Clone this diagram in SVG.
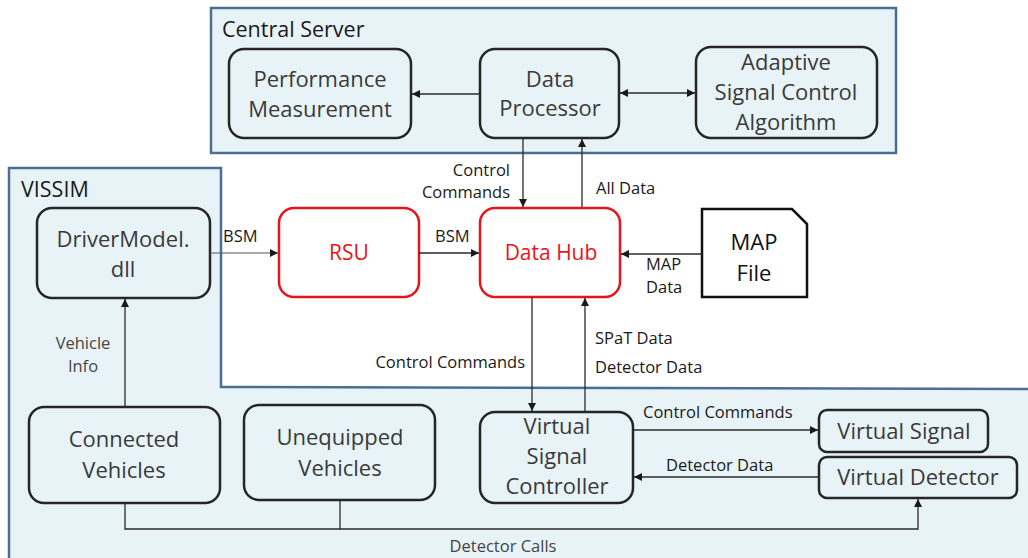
<svg xmlns="http://www.w3.org/2000/svg" width="1028" height="558" viewBox="0 0 1028 558">
<defs>
<marker id="ah" viewBox="0 0 10 10" refX="10" refY="5" markerWidth="8" markerHeight="8" markerUnits="userSpaceOnUse" orient="auto-start-reverse">
<path d="M0,0 L10,5 L0,10 z" fill="#1a1a1a"/>
</marker>
<style>
.cont{fill:#e8f3f8;stroke:#4a6e96;stroke-width:2.5}
.node{fill:#e8f3f8;stroke:#262626;stroke-width:2.5}
.red{fill:#ffffff;stroke:#e8141b;stroke-width:2.5}
.file{fill:#ffffff;stroke:#111;stroke-width:2.5}
.nt{font-family:"Open Sans","Liberation Sans",sans-serif;font-size:22px;fill:#3a3a3a;text-anchor:middle}
.rt{font-family:"Open Sans","Liberation Sans",sans-serif;font-size:21px;fill:#e8141b;text-anchor:middle}
.ft{font-family:"Open Sans","Liberation Sans",sans-serif;font-size:22px;fill:#111;text-anchor:middle}
.ct{font-family:"Open Sans","Liberation Sans",sans-serif;font-size:21.5px;fill:#1a1a1a}
.lb{font-family:"Open Sans","Liberation Sans",sans-serif;font-size:16.5px;fill:#1a1a1a}
.lg{font-family:"Open Sans","Liberation Sans",sans-serif;font-size:16.5px;fill:#444}
.ln{fill:none;stroke:#2a2a2a;stroke-width:1.3}
.lt{fill:none;stroke:#555;stroke-width:1}
</style>
</defs>
<g id="central-server">
<rect class="cont" x="211" y="8" width="685" height="145"/>
<text class="ct" x="222" y="37">Central Server</text>
</g>
<g id="vissim">
<path class="cont" d="M9,168 L221,168 L221,387 L1030,389 L1030,560 L9,560 Z"/>
<text class="ct" x="21" y="197">VISSIM</text>
</g>
<g id="performance-measurement">
<rect class="node" x="229" y="49" width="182" height="89" rx="15"/>
<text class="nt" x="320" y="87">Performance</text>
<text class="nt" x="320" y="117">Measurement</text>
</g>
<g id="data-processor">
<rect class="node" x="480" y="49" width="139" height="89" rx="15"/>
<text class="nt" x="550" y="87">Data</text>
<text class="nt" x="550" y="116">Processor</text>
</g>
<g id="adaptive-signal-control">
<rect class="node" x="696" y="47" width="181" height="91" rx="15"/>
<text class="nt" x="786" y="70">Adaptive</text>
<text class="nt" x="786" y="100">Signal Control</text>
<text class="nt" x="786" y="130">Algorithm</text>
</g>
<g id="drivermodel">
<rect class="node" x="37" y="208" width="173" height="90" rx="15"/>
<text class="nt" x="123" y="247">DriverModel.</text>
<text class="nt" x="123" y="277">dll</text>
</g>
<g id="rsu">
<rect class="red" x="279" y="208" width="140" height="89" rx="15"/>
<text class="rt" x="349" y="260">RSU</text>
</g>
<g id="data-hub">
<rect class="red" x="480" y="208" width="140" height="89" rx="15"/>
<text class="rt" x="551" y="260">Data Hub</text>
</g>
<g id="map-file">
<path class="file" d="M702,209 L792,209 L807,224 L807,297 L702,297 Z"/>
<text class="ft" x="754" y="250">MAP</text>
<text class="ft" x="754" y="281">File</text>
</g>
<g id="connected-vehicles">
<rect class="node" x="29" y="407" width="191" height="96" rx="15"/>
<text class="nt" x="124" y="447">Connected</text>
<text class="nt" x="124" y="478">Vehicles</text>
</g>
<g id="unequipped-vehicles">
<rect class="node" x="244" y="405" width="191" height="95" rx="15"/>
<text class="nt" x="340" y="445">Unequipped</text>
<text class="nt" x="340" y="476">Vehicles</text>
</g>
<g id="virtual-signal-controller">
<rect class="node" x="480" y="412" width="153" height="91" rx="15"/>
<text class="nt" x="557" y="434">Virtual</text>
<text class="nt" x="557" y="464">Signal</text>
<text class="nt" x="557" y="494">Controller</text>
</g>
<g id="virtual-signal">
<rect class="node" x="819" y="410" width="169" height="42" rx="8"/>
<text class="nt" x="904" y="439">Virtual Signal</text>
</g>
<g id="virtual-detector">
<rect class="node" x="819" y="457" width="198" height="41" rx="8"/>
<text class="nt" x="918" y="485">Virtual Detector</text>
</g>
<g id="connectors">
<line class="ln" x1="480" y1="94" x2="412" y2="94" marker-end="url(#ah)"/>
<line class="ln" x1="620" y1="93" x2="695" y2="93" marker-start="url(#ah)" marker-end="url(#ah)"/>
<line class="ln" x1="523" y1="138" x2="523" y2="207" marker-end="url(#ah)"/>
<line class="ln" x1="582" y1="207" x2="582" y2="139" marker-end="url(#ah)"/>
<line class="lt" x1="210" y1="253" x2="278" y2="253" marker-end="url(#ah)"/>
<line class="ln" x1="419" y1="253" x2="479" y2="253" marker-end="url(#ah)"/>
<line class="ln" x1="702" y1="254" x2="621" y2="254" marker-end="url(#ah)"/>
<line class="ln" x1="532" y1="297" x2="532" y2="411" marker-end="url(#ah)"/>
<line class="ln" x1="585" y1="412" x2="585" y2="298" marker-end="url(#ah)"/>
<line class="ln" x1="125" y1="407" x2="125" y2="299" marker-end="url(#ah)"/>
<line class="ln" x1="633" y1="430" x2="818" y2="430" marker-end="url(#ah)"/>
<line class="ln" x1="819" y1="477" x2="634" y2="477" marker-end="url(#ah)"/>
<polyline class="ln" points="125,503 125,529 918,529 918,499" marker-end="url(#ah)"/>
<line class="ln" x1="340" y1="500" x2="340" y2="529"/>
<text class="lb" x="510" y="176" text-anchor="end">Control</text>
<text class="lb" x="510" y="198" text-anchor="end">Commands</text>
<text class="lb" x="596" y="194">All Data</text>
<text class="lb" x="223" y="242">BSM</text>
<text class="lb" x="435" y="242">BSM</text>
<text class="lb" x="646" y="270">MAP</text>
<text class="lb" x="646" y="293">Data</text>
<text class="lb" x="525" y="368" text-anchor="end">Control Commands</text>
<text class="lb" x="595" y="344">SPaT Data</text>
<text class="lb" x="595" y="373">Detector Data</text>
<text class="lg" x="83" y="349" text-anchor="middle">Vehicle</text>
<text class="lg" x="83" y="372" text-anchor="middle">Info</text>
<text class="lb" x="643" y="418">Control Commands</text>
<text class="lb" x="666" y="471">Detector Data</text>
<text class="lg" x="503" y="552" text-anchor="middle">Detector Calls</text>
</g>
</svg>
